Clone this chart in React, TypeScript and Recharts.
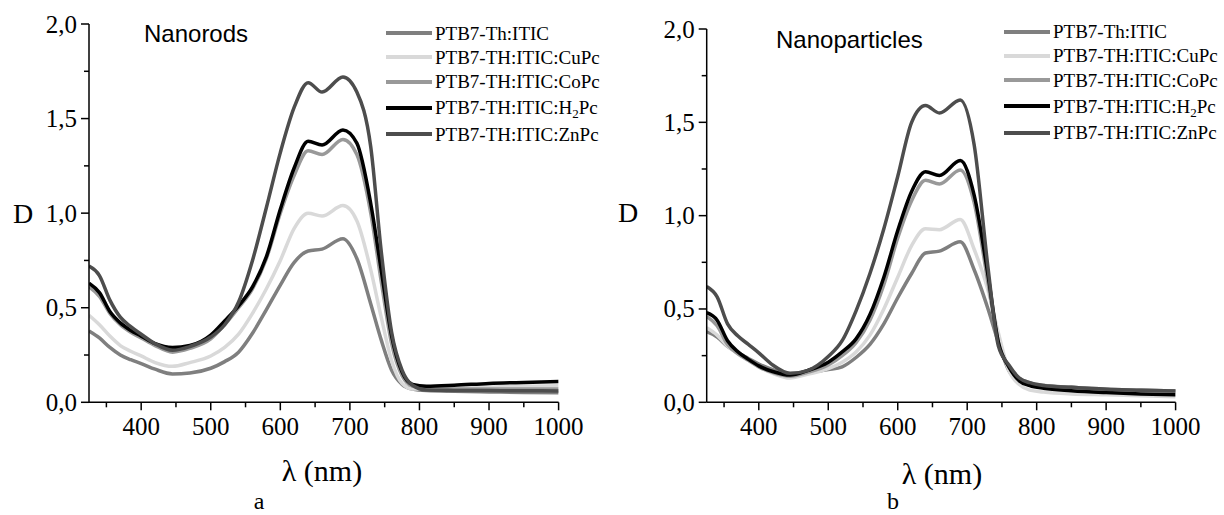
import React from "react";
import { LineChart, Line, XAxis, YAxis, Legend } from "recharts";

const SERIF = '"Liberation Serif", "Times New Roman", serif';
const SANS = '"Liberation Sans", Arial, sans-serif';

// wavelength grid (nm), shared by both panels
const wavelengths = [
  325, 340, 355, 370, 385, 400, 420, 445, 470, 500, 520, 540, 560, 580, 600,
  620, 640, 660, 690, 710, 730, 745, 760, 775, 790, 810, 850, 900, 950, 1000,
];

const seriesNames = [
  "PTB7-Th:ITIC",
  "PTB7-TH:ITIC:CuPc",
  "PTB7-TH:ITIC:CoPc",
  "PTB7-TH:ITIC:H2Pc",
  "PTB7-TH:ITIC:ZnPc",
];
const seriesColors = ["#7f7f7f", "#d9d9d9", "#999999", "#000000", "#4d4d4d"];

const xTicks = [350, 400, 450, 500, 550, 600, 650, 700, 750, 800, 850, 900, 950, 1000];
const yTicks = [0, 0.25, 0.5, 0.75, 1, 1.25, 1.5, 1.75, 2];

// (a) nanorods
const rodsItic = [
  0.377, 0.34, 0.29, 0.25, 0.225, 0.205, 0.175, 0.15, 0.155, 0.18, 0.215, 0.265, 0.365, 0.49, 0.62,
  0.74, 0.8, 0.81, 0.865, 0.76, 0.52, 0.33, 0.17, 0.095, 0.07, 0.062, 0.058, 0.055, 0.052, 0.05,
];
const rodsCuPc = [
  0.46, 0.41, 0.35, 0.3, 0.27, 0.245, 0.21, 0.19, 0.21, 0.245, 0.29, 0.36, 0.47, 0.6, 0.75,
  0.92, 1.0, 0.985, 1.04, 0.96, 0.7, 0.45, 0.22, 0.1, 0.07, 0.07, 0.075, 0.08, 0.085, 0.088,
];
const rodsCoPc = [
  0.61, 0.56, 0.47, 0.41, 0.37, 0.34, 0.3, 0.265, 0.285, 0.335, 0.41, 0.5, 0.6, 0.76, 1.0,
  1.2, 1.33, 1.31, 1.39, 1.31, 1.0, 0.64, 0.31, 0.14, 0.085, 0.072, 0.07, 0.07, 0.07, 0.07,
];
const rodsH2Pc = [
  0.63, 0.58, 0.48, 0.42, 0.38, 0.35, 0.31, 0.29, 0.3, 0.355, 0.43, 0.51, 0.61, 0.77, 1.02,
  1.24, 1.38, 1.36, 1.44, 1.37, 1.05, 0.7, 0.35, 0.16, 0.095, 0.085, 0.09, 0.1, 0.105, 0.11,
];
const rodsZnPc = [
  0.72, 0.67, 0.54, 0.45, 0.4, 0.36, 0.31, 0.275, 0.295, 0.345, 0.41, 0.53, 0.75, 1.03, 1.32,
  1.56, 1.69, 1.64, 1.72, 1.64, 1.35, 0.8, 0.37, 0.17, 0.09, 0.065, 0.063, 0.062, 0.061, 0.06,
];

// (b) nanoparticles
const partItic = [
  0.378, 0.35, 0.3, 0.265, 0.235, 0.205, 0.175, 0.15, 0.16, 0.175, 0.19, 0.24, 0.31, 0.42, 0.56,
  0.69, 0.8, 0.81, 0.86, 0.71, 0.5, 0.32, 0.17, 0.12, 0.1, 0.09, 0.08, 0.07, 0.065, 0.06,
];
const partCuPc = [
  0.4, 0.36, 0.3, 0.26, 0.225, 0.19, 0.155, 0.13, 0.15, 0.18, 0.215, 0.27, 0.36, 0.5, 0.67,
  0.84, 0.93, 0.925, 0.98, 0.82, 0.6, 0.37, 0.17, 0.095, 0.065, 0.055, 0.045, 0.04, 0.035, 0.03,
];
const partCoPc = [
  0.46, 0.41, 0.31, 0.26, 0.225, 0.19, 0.16, 0.14, 0.16, 0.2, 0.25, 0.32, 0.44, 0.63, 0.88,
  1.08, 1.19, 1.17, 1.245, 1.07, 0.64, 0.32, 0.19, 0.13, 0.105, 0.09, 0.08, 0.07, 0.065, 0.06,
];
const partH2Pc = [
  0.48, 0.44, 0.33, 0.27, 0.23, 0.195, 0.165, 0.146, 0.17, 0.215, 0.27, 0.34, 0.47, 0.67, 0.92,
  1.13, 1.235, 1.215, 1.295, 1.11, 0.68, 0.32, 0.19, 0.115, 0.09, 0.075, 0.062, 0.052, 0.045, 0.04,
];
const partZnPc = [
  0.62, 0.565, 0.42, 0.355, 0.31, 0.265, 0.2, 0.155, 0.17, 0.245, 0.33, 0.49, 0.69, 0.93, 1.21,
  1.5, 1.59, 1.55, 1.62, 1.38, 0.72, 0.3, 0.2, 0.13, 0.105, 0.09, 0.08, 0.07, 0.065, 0.06,
];

const buildRows = (series: number[][]) =>
  wavelengths.map((wl, i) => {
    const row: Record<string, number> = { wl };
    series.forEach((s, k) => (row[`s${k}`] = s[i]));
    return row;
  });

const rodsData = buildRows([rodsItic, rodsCuPc, rodsCoPc, rodsH2Pc, rodsZnPc]);
const partData = buildRows([partItic, partCuPc, partCoPc, partH2Pc, partZnPc]);

const XTick = (props: any) => {
  const { x, y, payload } = props;
  const major = payload.value % 100 === 0;
  return (
    <g>
      <line x1={x} x2={x} y1={y} y2={y + (major ? 8 : 5)} stroke="#000" strokeWidth={1.5} />
      {major && (
        <text x={x} y={y + 33} textAnchor="middle" fontSize={25} fontFamily={SERIF} fill="#000">
          {payload.value}
        </text>
      )}
    </g>
  );
};

const YTick = (props: any) => {
  const { x, y, payload } = props;
  const v = payload.value;
  const major = Math.abs(v * 2 - Math.round(v * 2)) < 1e-6;
  return (
    <g>
      <line x1={x} x2={x - (major ? 8 : 5)} y1={y} y2={y} stroke="#000" strokeWidth={1.5} />
      {major && (
        <text x={x - 12} y={y + 8.5} textAnchor="end" fontSize={25} fontFamily={SERIF} fill="#000">
          {v.toFixed(1).replace(".", ",")}
        </text>
      )}
    </g>
  );
};

const legendLabel = (name: string) => {
  if (name.endsWith("H2Pc")) {
    return (
      <>
        PTB7-TH:ITIC:H<sub style={{ fontSize: 13, verticalAlign: "-4px", lineHeight: 0 }}>2</sub>Pc
      </>
    );
  }
  return name;
};

const renderLegend = () => (
  <div style={{ fontFamily: SERIF, fontSize: 19, color: "#000" }}>
    {seriesNames.map((name, i) => (
      <div
        key={name}
        style={{ display: "flex", alignItems: "center", height: i === 3 ? 28 : 24.3 }}
      >
        <svg width={46} height={6} style={{ display: "block" }}>
          <line x1={0} x2={46} y1={3} y2={3} stroke={seriesColors[i]} strokeWidth={4} />
        </svg>
        <span style={{ marginLeft: 3, whiteSpace: "nowrap", lineHeight: 1 }}>
          {legendLabel(name)}
        </span>
      </div>
    ))}
  </div>
);

interface PanelProps {
  data: Record<string, number>[];
  axisLeft: number;
  top: number;
  right: number;
  legendTop: number;
  legendLeft: number;
}

function Panel({ data, axisLeft, top, right, legendTop, legendLeft }: PanelProps) {
  return (
    <LineChart
      width={612}
      height={515}
      data={data}
      margin={{ top, right, bottom: 82.7, left: 0 }}
    >
      <XAxis
        dataKey="wl"
        type="number"
        domain={[325, 1000]}
        ticks={xTicks}
        interval={0}
        height={30}
        tickSize={0}
        tickMargin={0}
        tickLine={false}
        axisLine={{ stroke: "#000", strokeWidth: 1.5 }}
        tick={<XTick />}
        allowDataOverflow
      />
      <YAxis
        type="number"
        domain={[0, 2]}
        ticks={yTicks}
        interval={0}
        width={axisLeft}
        tickSize={0}
        tickMargin={0}
        tickLine={false}
        axisLine={{ stroke: "#000", strokeWidth: 1.5 }}
        tick={<YTick />}
        allowDataOverflow
      />
      <Legend
        layout="vertical"
        align="center"
        verticalAlign="middle"
        content={renderLegend}
        wrapperStyle={{ top: legendTop, left: legendLeft, width: 220, bottom: "auto", right: "auto" }}
      />
      {seriesNames.map((name, k) => (
        <Line
          key={name}
          name={name}
          dataKey={`s${k}`}
          type="monotone"
          stroke={seriesColors[k]}
          strokeWidth={3.5}
          dot={false}
          activeDot={false}
          isAnimationActive={false}
        />
      ))}
    </LineChart>
  );
}

export default function App() {
  return (
    <div style={{ position: "absolute", left: 0, top: 0, width: 1224, height: 515, background: "#fff", overflow: "hidden" }}>
      <div style={{ position: "absolute", left: 0, top: 0 }}>
        <Panel data={rodsData} axisLeft={89} top={24} right={53.4} legendTop={21} legendLeft={386} />
      </div>
      <div style={{ position: "absolute", left: 612, top: 0 }}>
        <Panel data={partData} axisLeft={94.7} top={29} right={48.4} legendTop={19.5} legendLeft={392} />
      </div>
      <svg
        width={1224}
        height={515}
        style={{ position: "absolute", left: 0, top: 0, pointerEvents: "none" }}
      >
        <text x={144} y={42} fontSize={24} fontFamily={SANS} fill="#000">Nanorods</text>
        <text x={776} y={48} fontSize={24} fontFamily={SANS} fill="#000">Nanoparticles</text>
        <text x={13} y={223} fontSize={28} fontFamily={SERIF} fill="#000">D</text>
        <text x={618} y={222} fontSize={28} fontFamily={SERIF} fill="#000">D</text>
        <text x={322} y={481} textAnchor="middle" fontSize={30} fontFamily={SERIF} fill="#000">λ (nm)</text>
        <text x={942} y={484} textAnchor="middle" fontSize={30} fontFamily={SERIF} fill="#000">λ (nm)</text>
        <text x={259} y={509} textAnchor="middle" fontSize={24} fontFamily={SERIF} fill="#000">a</text>
        <text x={893} y={509} textAnchor="middle" fontSize={24} fontFamily={SERIF} fill="#000">b</text>
      </svg>
    </div>
  );
}
